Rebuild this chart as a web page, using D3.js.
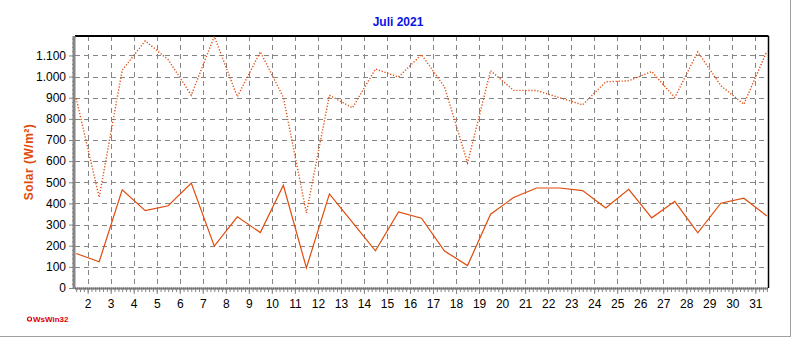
<!DOCTYPE html>
<html>
<head>
<meta charset="utf-8">
<script src="https://cdn.jsdelivr.net/npm/d3@7"></script>
<style>
  body { margin: 0; background: #fff; }
  svg { display: block; font-family: Arial, "Liberation Sans", sans-serif; }
</style>
</head>
<body>
<svg id="chart" width="792" height="337"></svg>
<script>
// Solar radiation, July 2021 (daily mean and daily max)
const days = d3.range(1, 32);
const solarMean = [163, 124, 464, 366, 389, 496, 198, 337, 262, 486,
                   95, 445, 310, 176, 360, 330, 175, 106, 349, 428,
                   473, 473, 461, 379, 467, 332, 410, 261, 401, 425, 341];
const solarMax = [897, 429, 1030, 1169, 1080, 912, 1190, 905, 1117, 902,
                  355, 912, 852, 1036, 998, 1104, 951, 592, 1028, 935,
                  934, 900, 866, 975, 980, 1024, 901, 1117, 957, 869, 1120];
const xTickLabels = d3.range(2, 32);
const yTicks = d3.range(0, 1101, 100);

const lineColor = '#e04a0a';
const gridColor = '#858585';

const svg = d3.select('#chart');
const plotLeft = 75, plotRight = 768, plotTop = 36, plotBottom = 288;

const x = d3.scaleLinear().domain([1.45, 31.55]).range([plotLeft, plotRight]);
const y = d3.scaleLinear().domain([0, 1192]).range([plotBottom, plotTop]);

const fmt = d3.formatLocale({ decimal: ',', thousands: '.', grouping: [3], currency: ['', ''] }).format(',d');

// outer frame (right and bottom edges)
svg.append('line').attr('x1', 0).attr('x2', 791).attr('y1', 336.5).attr('y2', 336.5)
    .style('stroke', '#a0a0a0').style('stroke-width', 1);
svg.append('line').attr('x1', 790.5).attr('x2', 790.5).attr('y1', 0).attr('y2', 337)
    .style('stroke', '#a0a0a0').style('stroke-width', 1);

// grid
const grid = svg.append('g').attr('class', 'grid').attr('shape-rendering', 'crispEdges');
grid.selectAll('.vg').data(xTickLabels).join('line')
    .attr('x1', d => Math.round(x(d)) + 0.5).attr('x2', d => Math.round(x(d)) + 0.5)
    .attr('y1', plotTop).attr('y2', plotBottom)
    .style('stroke', gridColor).style('stroke-dasharray', '5,4');
grid.selectAll('.hg').data(yTicks.filter(d => d > 0)).join('line')
    .attr('x1', plotLeft).attr('x2', plotRight)
    .attr('y1', d => Math.round(y(d)) + 0.5).attr('y2', d => Math.round(y(d)) + 0.5)
    .style('stroke', gridColor).style('stroke-dasharray', '5,4');

// frame top/right
svg.append('line').attr('x1', plotLeft).attr('x2', plotRight + 0.5).attr('y1', plotTop).attr('y2', plotTop)
    .style('stroke', '#000').style('stroke-width', 2);
svg.append('line').attr('x1', plotRight + 0.5).attr('x2', plotRight + 0.5).attr('y1', plotTop).attr('y2', plotBottom)
    .style('stroke', '#000').style('stroke-width', 1.5);

// Y axis
const yAxis = svg.append('g').attr('transform', `translate(${plotLeft - 1},0)`)
    .call(d3.axisLeft(y).tickValues(yTicks).tickFormat(fmt).tickSize(5).tickPadding(3));
yAxis.select('.domain').remove();
yAxis.selectAll('.tick line').style('stroke', gridColor);
yAxis.selectAll('text').style('font-size', '12px').style('fill', '#000');
svg.append('g').attr('transform', `translate(${plotLeft - 1},0)`)
    .call(d3.axisLeft(y).tickValues(d3.range(0, 1192, 20)).tickFormat('').tickSize(2))
    .call(g => g.select('.domain').remove())
    .selectAll('line').style('stroke', gridColor);
svg.append('line').attr('x1', plotLeft - 1).attr('x2', plotLeft - 1).attr('y1', plotTop).attr('y2', plotBottom + 1)
    .style('stroke', gridColor).style('stroke-width', 3);

// X axis
const xAxis = svg.append('g').attr('transform', `translate(0,${plotBottom + 1})`)
    .call(d3.axisBottom(x).tickValues(xTickLabels).tickFormat(d3.format('d')).tickSize(5).tickPadding(5));
xAxis.select('.domain').remove();
xAxis.selectAll('.tick line').style('stroke', gridColor);
xAxis.selectAll('text').style('font-size', '12px').style('fill', '#000');
svg.append('g').attr('transform', `translate(0,${plotBottom + 1})`)
    .call(d3.axisBottom(x).tickValues(d3.range(1.5, 31.55, 1 / 6)).tickFormat('').tickSize(3))
    .call(g => g.select('.domain').remove())
    .selectAll('line').style('stroke', gridColor);
svg.append('line').attr('x1', plotLeft).attr('x2', plotRight).attr('y1', plotBottom + 0.5).attr('y2', plotBottom + 0.5)
    .style('stroke', gridColor).style('stroke-width', 2);
svg.append('line').attr('x1', plotLeft).attr('x2', plotRight).attr('y1', plotBottom + 0.5).attr('y2', plotBottom + 0.5)
    .style('stroke', lineColor).style('stroke-width', 2).style('stroke-dasharray', '1,1');

// series
const line = d3.line().x(d => x(d[0] + 0.5)).y(d => y(d[1]));
svg.append('path')
    .datum(days.map((d, i) => [d, solarMax[i]]))
    .attr('d', line)
    .style('fill', 'none').style('stroke', lineColor).style('stroke-width', 1.4)
    .style('stroke-dasharray', '1.2,1.8');
svg.append('path')
    .datum(days.map((d, i) => [d, solarMean[i]]))
    .attr('d', line)
    .style('fill', 'none').style('stroke', lineColor).style('stroke-width', 1.2);

// title
svg.append('text')
    .attr('x', 398).attr('y', 26)
    .attr('text-anchor', 'middle')
    .style('font-size', '12px').style('font-weight', 'bold').style('fill', '#0a14e6')
    .text('Juli 2021');

// y label
svg.append('text')
    .attr('transform', 'translate(33,162) rotate(-90)')
    .attr('text-anchor', 'middle')
    .style('font-size', '12px').style('font-weight', 'bold').style('fill', lineColor)
    .style('letter-spacing', '0.5px')
    .text('Solar  (W/m²)');

// footer
svg.append('circle').attr('cx', 29.5).attr('cy', 319).attr('r', 2)
    .style('fill', 'none').style('stroke', '#e00000').style('stroke-width', 1.2);
svg.append('text')
    .attr('x', 33).attr('y', 322)
    .style('font-size', '8px').style('font-weight', 'bold').style('fill', '#e00000')
    .text('WsWin32');
</script>
</body>
</html>
